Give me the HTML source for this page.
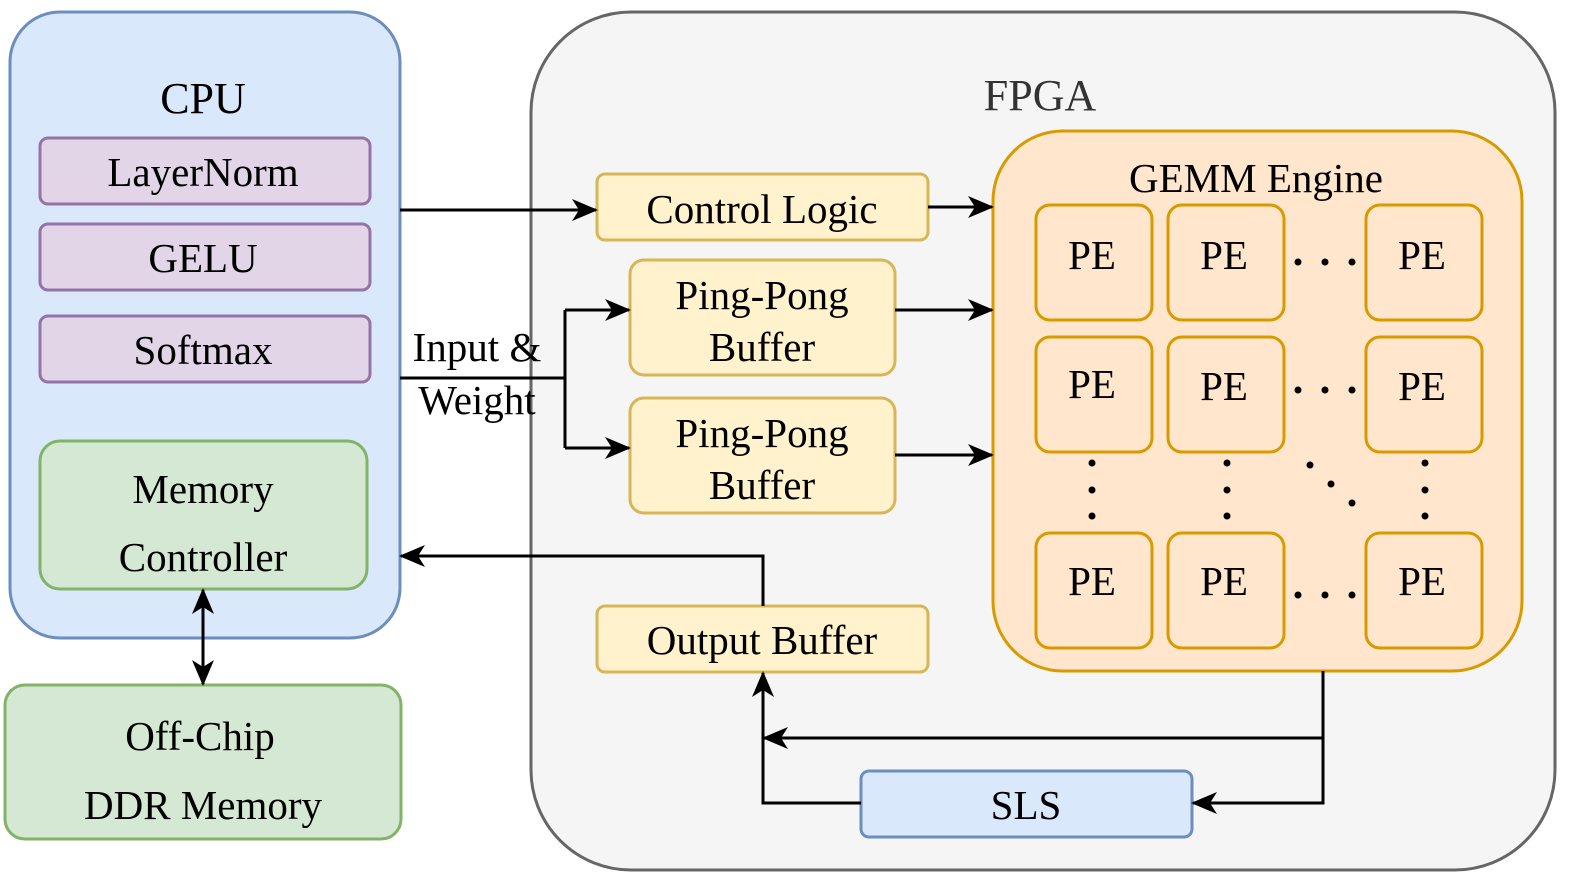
<!DOCTYPE html>
<html><head><meta charset="utf-8"><style>html,body{margin:0;padding:0;background:#fff}</style></head>
<body>
<svg width="1578" height="882" viewBox="0 0 1578 882" xmlns="http://www.w3.org/2000/svg" font-family="'Liberation Serif', serif" font-size="41" text-anchor="middle">
<defs>
<marker id="a" markerWidth="26" markerHeight="24" refX="24" refY="12" orient="auto" markerUnits="userSpaceOnUse" viewBox="0 0 26 24">
<path d="M0,1 L26,12 L0,23 L7,12 Z" fill="#000"/></marker>
</defs>
<style>.ar{marker-end:url(#a)}</style>
<!-- CPU -->
<rect x="10" y="12" width="390" height="626" rx="50" fill="#dae8fc" stroke="#6c8ebf" stroke-width="3"/>
<text x="203" y="113" font-size="44">CPU</text>
<rect x="40" y="138" width="330" height="66" rx="8" fill="#e1d5e7" stroke="#9673a6" stroke-width="3"/>
<text x="203" y="186">LayerNorm</text>
<rect x="40" y="224" width="330" height="66" rx="8" fill="#e1d5e7" stroke="#9673a6" stroke-width="3"/>
<text x="203" y="272">GELU</text>
<rect x="40" y="316" width="330" height="66" rx="8" fill="#e1d5e7" stroke="#9673a6" stroke-width="3"/>
<text x="203" y="364">Softmax</text>
<rect x="40" y="441" width="327" height="148" rx="20" fill="#d5e8d4" stroke="#82b366" stroke-width="3"/>
<text x="203" y="503">Memory</text>
<text x="203" y="571">Controller</text>
<rect x="5" y="685" width="396" height="154" rx="20" fill="#d5e8d4" stroke="#82b366" stroke-width="3"/>
<text x="200" y="750">Off-Chip</text>
<text x="203" y="819">DDR Memory</text>
<line x1="203" y1="610" x2="203" y2="684" stroke="#000" stroke-width="3" class="ar"/>
<line x1="203" y1="664" x2="203" y2="590" stroke="#000" stroke-width="3" class="ar"/>
<!-- FPGA -->
<rect x="531" y="12" width="1024" height="858" rx="100" fill="#f5f5f5" stroke="#666" stroke-width="3"/>
<text x="1040" y="110" font-size="44" fill="#333">FPGA</text>
<rect x="597" y="174" width="331" height="66" rx="8" fill="#fff2cc" stroke="#d6b656" stroke-width="3"/>
<text x="762" y="223">Control Logic</text>
<rect x="630" y="260" width="265" height="115" rx="14" fill="#fff2cc" stroke="#d6b656" stroke-width="3"/>
<text x="762" y="309">Ping-Pong</text><text x="762" y="361">Buffer</text>
<rect x="630" y="398" width="265" height="115" rx="14" fill="#fff2cc" stroke="#d6b656" stroke-width="3"/>
<text x="762" y="447">Ping-Pong</text><text x="762" y="499">Buffer</text>
<rect x="597" y="606" width="331" height="66" rx="8" fill="#fff2cc" stroke="#d6b656" stroke-width="3"/>
<text x="762" y="654">Output Buffer</text>
<rect x="861" y="771" width="331" height="66" rx="8" fill="#dae8fc" stroke="#6c8ebf" stroke-width="3"/>
<text x="1026" y="819">SLS</text>
<!-- GEMM -->
<rect x="993" y="131" width="529" height="540" rx="70" fill="#ffe6cc" stroke="#d79b00" stroke-width="3"/>
<text x="1256" y="192">GEMM Engine</text>
<g fill="#ffe6cc" stroke="#d79b00" stroke-width="3">
<rect x="1036" y="205" width="116" height="115" rx="14"/><rect x="1168" y="205" width="116" height="115" rx="14"/><rect x="1366" y="205" width="116" height="115" rx="14"/>
<rect x="1036" y="337" width="116" height="115" rx="14"/><rect x="1168" y="337" width="116" height="115" rx="14"/><rect x="1366" y="337" width="116" height="115" rx="14"/>
<rect x="1036" y="533" width="116" height="115" rx="14"/><rect x="1168" y="533" width="116" height="115" rx="14"/><rect x="1366" y="533" width="116" height="115" rx="14"/>
</g>
<g>
<text x="1092" y="269">PE</text><text x="1224" y="269">PE</text><text x="1422" y="269">PE</text>
<text x="1092" y="398">PE</text><text x="1224" y="400">PE</text><text x="1422" y="400">PE</text>
<text x="1092" y="595">PE</text><text x="1224" y="595">PE</text><text x="1422" y="595">PE</text>
</g>
<g fill="#000">
<circle cx="1298" cy="262" r="3.5"/><circle cx="1325" cy="262" r="3.5"/><circle cx="1352" cy="262" r="3.5"/>
<circle cx="1298" cy="390" r="3.5"/><circle cx="1325" cy="390" r="3.5"/><circle cx="1352" cy="390" r="3.5"/>
<circle cx="1298" cy="595" r="3.5"/><circle cx="1325" cy="595" r="3.5"/><circle cx="1352" cy="595" r="3.5"/>
<circle cx="1092" cy="463" r="3.5"/><circle cx="1092" cy="490" r="3.5"/><circle cx="1092" cy="516" r="3.5"/>
<circle cx="1227" cy="463" r="3.5"/><circle cx="1227" cy="490" r="3.5"/><circle cx="1227" cy="516" r="3.5"/>
<circle cx="1425" cy="463" r="3.5"/><circle cx="1425" cy="490" r="3.5"/><circle cx="1425" cy="516" r="3.5"/>
<circle cx="1310" cy="465" r="3.5"/><circle cx="1331" cy="484" r="3.5"/><circle cx="1352" cy="503" r="3.5"/>
</g>
<!-- connectors -->
<g stroke="#000" stroke-width="3" fill="none">
<line x1="400" y1="210" x2="596" y2="210" class="ar"/>
<line x1="928" y1="207" x2="992" y2="207" class="ar"/>
<polyline points="400,378 565,378"/>
<polyline points="565,310 565,448"/>
<line x1="565" y1="310" x2="629" y2="310" class="ar"/>
<line x1="565" y1="448" x2="629" y2="448" class="ar"/>
<line x1="895" y1="310" x2="992" y2="310" class="ar"/>
<line x1="895" y1="455" x2="992" y2="455" class="ar"/>
<polyline points="763,606 763,556 401,556" class="ar"/>
<polyline points="1323,671 1323,803 1193,803" class="ar"/>
<polyline points="1323,738 764,738" class="ar"/>
<polyline points="861,803 763,803 763,673" class="ar"/>
</g>
<text x="477" y="361">Input &amp;</text>
<text x="477" y="414">Weight</text>
</svg>
</body></html>
